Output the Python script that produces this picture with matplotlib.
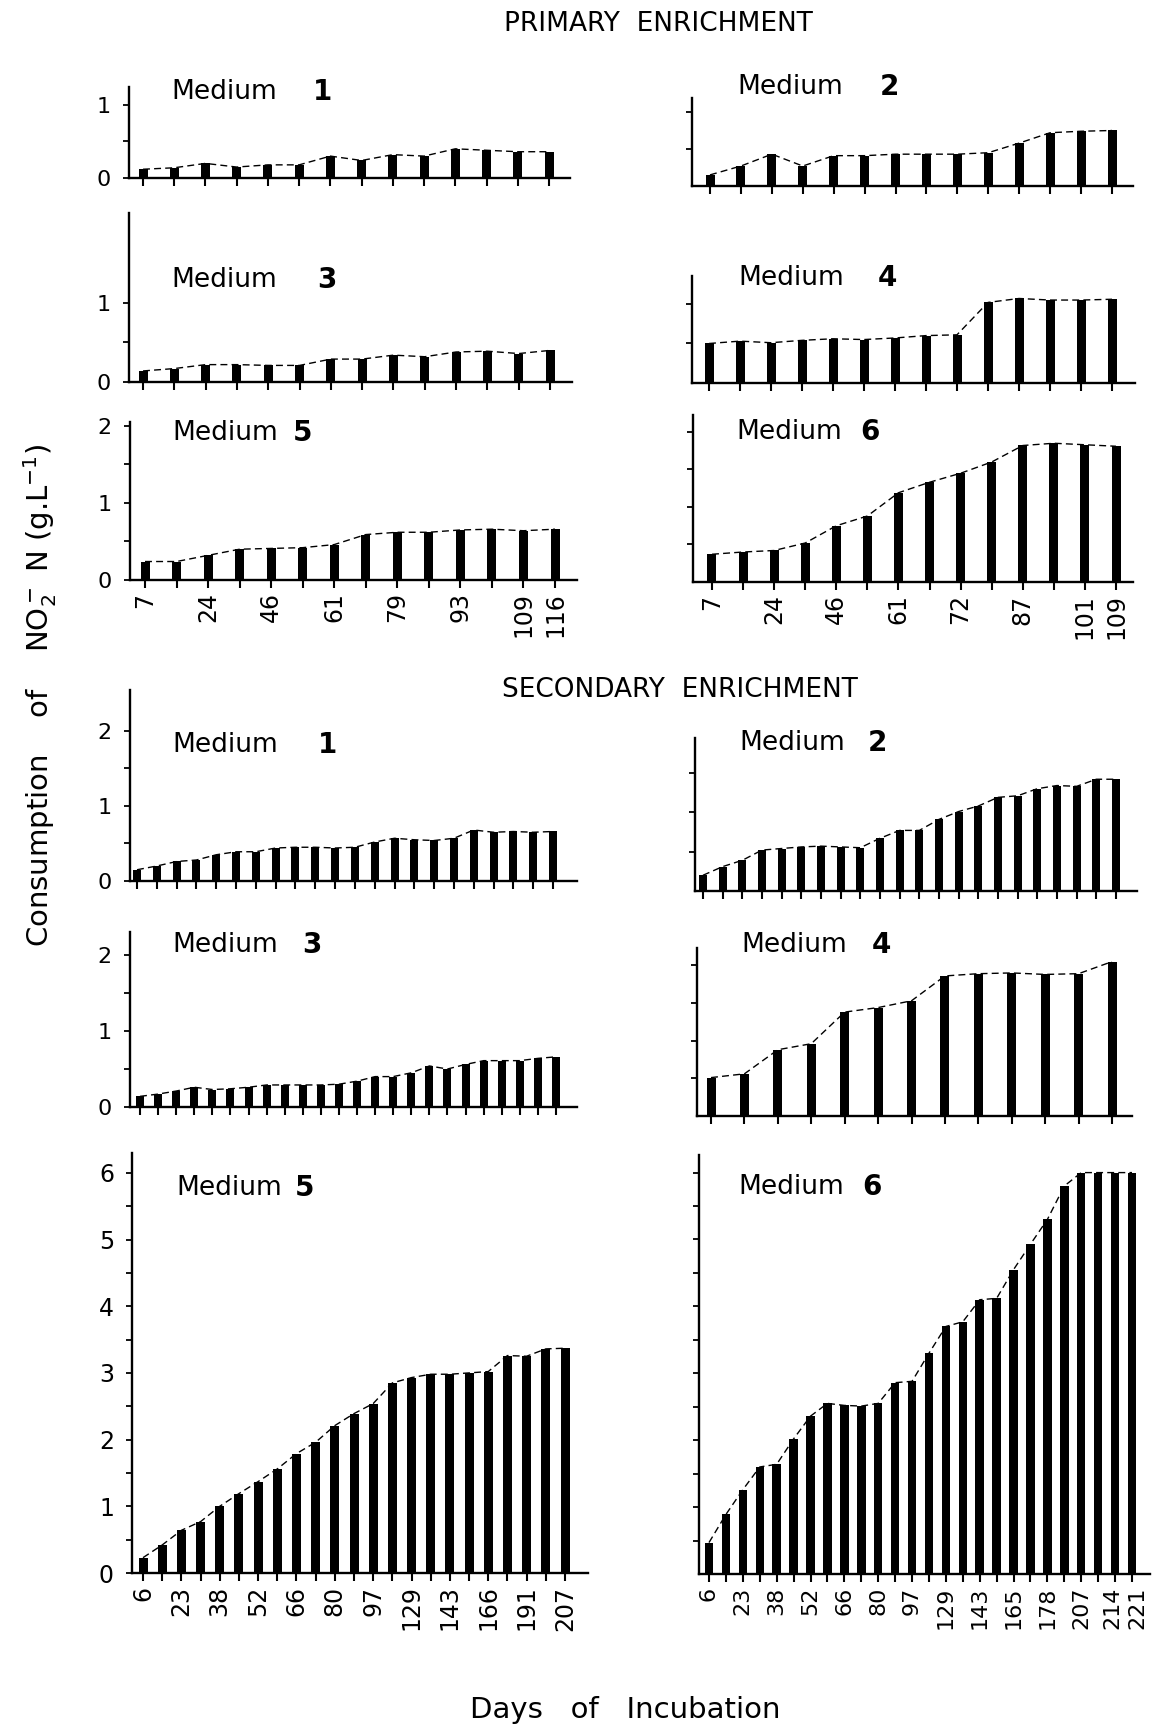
import numpy as np
import matplotlib
matplotlib.use("Agg")
import matplotlib.pyplot as plt
from matplotlib.transforms import ScaledTranslation

plt.rcParams['font.family'] = ['DejaVu Sans']

# NO2- N consumption (g/L) per sampling, primary enrichment
prim_m1 = [0.12, 0.14, 0.20, 0.15, 0.18, 0.18, 0.30, 0.24, 0.32, 0.30, 0.40, 0.38, 0.36, 0.36]
prim_m2 = [0.15, 0.27, 0.43, 0.27, 0.41, 0.41, 0.43, 0.43, 0.43, 0.45, 0.58, 0.72, 0.74, 0.75]
prim_m3 = [0.14, 0.17, 0.22, 0.22, 0.21, 0.21, 0.29, 0.29, 0.34, 0.32, 0.38, 0.39, 0.36, 0.40]
prim_m4 = [0.50, 0.53, 0.51, 0.54, 0.56, 0.55, 0.57, 0.60, 0.61, 1.02, 1.07, 1.05, 1.05, 1.06]
prim_m5 = [0.24, 0.24, 0.32, 0.40, 0.41, 0.42, 0.46, 0.59, 0.62, 0.62, 0.65, 0.66, 0.64, 0.66]
prim_m6 = [0.37, 0.40, 0.42, 0.52, 0.75, 0.88, 1.19, 1.33, 1.45, 1.60, 1.82, 1.85, 1.83, 1.81]

# secondary enrichment
sec_m1 = [0.15, 0.20, 0.26, 0.28, 0.35, 0.39, 0.39, 0.44, 0.45, 0.45, 0.44, 0.45, 0.52, 0.57,
          0.55, 0.54, 0.57, 0.68, 0.65, 0.66, 0.65, 0.66]
sec_m2 = [0.20, 0.31, 0.39, 0.52, 0.54, 0.56, 0.57, 0.56, 0.55, 0.67, 0.77, 0.77, 0.91, 1.01,
          1.08, 1.19, 1.21, 1.30, 1.34, 1.33, 1.42, 1.42]
sec_m3 = [0.14, 0.17, 0.21, 0.26, 0.23, 0.24, 0.26, 0.29, 0.29, 0.29, 0.29, 0.30, 0.34, 0.40,
          0.40, 0.45, 0.54, 0.50, 0.56, 0.61, 0.61, 0.61, 0.64, 0.66]
sec_m4 = [0.51, 0.56, 0.88, 0.96, 1.38, 1.44, 1.53, 1.86, 1.89, 1.90, 1.88, 1.89, 2.05]
sec_m5 = [0.23, 0.42, 0.64, 0.77, 1.00, 1.19, 1.37, 1.56, 1.79, 1.96, 2.21, 2.39, 2.54, 2.85,
          2.93, 2.98, 2.98, 3.00, 3.02, 3.26, 3.25, 3.36, 3.37]
sec_m6 = [0.47, 0.89, 1.26, 1.60, 1.64, 2.02, 2.36, 2.55, 2.52, 2.51, 2.55, 2.86, 2.88, 3.30,
          3.70, 3.77, 4.10, 4.12, 4.55, 4.93, 5.30, 5.80, 6.00, 6.00, 6.00, 6.00]

# day labels under the bottom panels (label, bar index)
prim_m5_days = ['7', '24', '46', '61', '79', '93', '109', '116']
prim_m5_idx = [0, 2, 4, 6, 8, 10, 12, 13]
prim_m6_days = ['7', '24', '46', '61', '72', '87', '101', '109']
prim_m6_idx = [0, 2, 4, 6, 8, 10, 12, 13]
sec_m5_days = ['6', '23', '38', '52', '66', '80', '97', '129', '143', '166', '191', '207']
sec_m5_idx = [0, 2, 4, 6, 8, 10, 12, 14, 16, 18, 20, 22]
sec_m6_days = ['6', '23', '38', '52', '66', '80', '97', '129', '143', '165', '178', '207', '214', '221']
sec_m6_idx = [0, 2, 4, 6, 8, 10, 12, 14, 16, 18, 20, 22, 24, 25]

W, H = 1161, 1726
fig = plt.figure(figsize=(W / 100, H / 100), dpi=100)

# panel geometry in pixels: axis x, axis end, zero line, axis top, px per unit,
# first/last bar centre, bar width
layout = {
    'p1': dict(left=129, right=570, zero=178, top=87, unit=73, x0=143, x1=549, bw=9),
    'p3': dict(left=129, right=572, zero=382, top=213, unit=79, x0=143, x1=550, bw=9),
    'p5': dict(left=130, right=577, zero=580, top=422, unit=77, x0=145, x1=555, bw=9),
    'p2': dict(left=692, right=1133, zero=186, top=98, unit=74, x0=710, x1=1112, bw=9),
    'p4': dict(left=692, right=1135, zero=383, top=276, unit=79, x0=709, x1=1112, bw=9),
    'p6': dict(left=693, right=1133, zero=582, top=415, unit=75, x0=712, x1=1116, bw=9),
    's1': dict(left=130, right=577, zero=881, top=690, unit=75, x0=137, x1=553, bw=8),
    's3': dict(left=130, right=577, zero=1107, top=932, unit=76, x0=140, x1=556, bw=8),
    's5': dict(left=132, right=588, zero=1573, top=1153, unit=66.7, x0=143, x1=565, bw=9),
    's2': dict(left=695, right=1137, zero=891, top=738, unit=78.7, x0=703, x1=1116, bw=8),
    's4': dict(left=697, right=1132, zero=1116, top=948, unit=75.3, x0=711, x1=1112, bw=9),
    's6': dict(left=699, right=1150, zero=1574, top=1155, unit=66.9, x0=709, x1=1132, bw=8.5),
}


def panel(key, vals, major, minor=(), labelled=False, days=None, day_idx=None,
          ysize=16, xsize=17):
    g = layout[key]
    ax = fig.add_axes([g['left'] / W, 1 - g['zero'] / H,
                       (g['right'] - g['left']) / W, (g['zero'] - g['top']) / H])
    n = len(vals)
    dx = (g['x1'] - g['x0']) / (n - 1)
    x = np.arange(n)
    ax.set_xlim((g['left'] - g['x0']) / dx, (g['right'] - g['x0']) / dx)
    ax.set_ylim(0, (g['zero'] - g['top']) / g['unit'])

    ax.bar(x, vals, width=g['bw'] / dx, color='black', zorder=3)
    ax.plot(x, vals, color='black', lw=1.0, dashes=(5, 3), zorder=2)

    for s in ['top', 'right']:
        ax.spines[s].set_visible(False)
    for s in ['left', 'bottom']:
        ax.spines[s].set_linewidth(1.7)

    ax.set_xticks(x)
    if days is not None:
        labels = [''] * n
        for d, i in zip(days, day_idx):
            labels[i] = d
        ax.set_xticklabels(labels, rotation=90, fontsize=xsize)
    else:
        ax.set_xticklabels([])
    ax.tick_params(axis='x', direction='out', length=6, width=1.5, pad=3)

    ax.set_yticks(list(major))
    ax.set_yticks(list(minor), minor=True)
    if labelled:
        ax.set_yticklabels([f'{v:g}' for v in major], fontsize=ysize)
    else:
        ax.set_yticklabels([])
    ax.tick_params(axis='y', which='both', direction='out', length=4, width=1.3, pad=9)
    ax.patch.set_visible(False)
    return ax


panel('p1', prim_m1, [0, 1], [0.5], labelled=True)
panel('p3', prim_m3, [0, 1], [0.5], labelled=True)
panel('p5', prim_m5, [0, 1, 2], [0.5, 1.5], labelled=True,
      days=prim_m5_days, day_idx=prim_m5_idx)
panel('p2', prim_m2, [0.5, 1])
panel('p4', prim_m4, [0.5, 1])
panel('p6', prim_m6, [0.5, 1, 1.5, 2], days=prim_m6_days, day_idx=prim_m6_idx)

panel('s1', sec_m1, [0, 1, 2], [0.5, 1.5], labelled=True)
panel('s3', sec_m3, [0, 1, 2], [0.5, 1.5], labelled=True)
panel('s5', sec_m5, [0, 1, 2, 3, 4, 5, 6], [0.5, 1.5, 2.5, 3.5, 4.5, 5.5], labelled=True,
      days=sec_m5_days, day_idx=sec_m5_idx, ysize=17)
panel('s2', sec_m2, [0.5, 1, 1.5])
panel('s4', sec_m4, [0.5, 1, 1.5, 2])
ax6 = panel('s6', sec_m6, list(np.arange(0.5, 6.01, 0.5)),
            days=sec_m6_days, day_idx=sec_m6_idx, xsize=16)

# the last two days sit on neighbouring bars: nudge them apart
last = ax6.get_xticklabels()
last[24].set_transform(last[24].get_transform() + ScaledTranslation(-2 / 72, 0, fig.dpi_scale_trans))
last[25].set_transform(last[25].get_transform() + ScaledTranslation(4 / 72, 0, fig.dpi_scale_trans))


def ftext(x, y, s, **kw):
    fig.text(x / W, 1 - y / H, s, **kw)


# panel names: (x of "Medium", y, number, x of number)
names = [
    (171, 92, '1', 313), (171, 280, '3', 317), (172, 433, '5', 293),
    (737, 87, '2', 880), (738, 278, '4', 878), (736, 432, '6', 860),
    (172, 745, '1', 318), (172, 945, '3', 302), (176, 1188, '5', 295),
    (739, 743, '2', 868), (741, 945, '4', 872), (738, 1187, '6', 862),
]
for mx, my, num, nx in names:
    ftext(mx, my, 'Medium', fontsize=19, va='center', ha='left')
    ftext(nx, my, num, fontsize=20, fontweight='bold', va='center', ha='left')

ftext(658, 24, 'PRIMARY  ENRICHMENT', fontsize=19, ha='center', va='center')
ftext(680, 690, 'SECONDARY  ENRICHMENT', fontsize=19, ha='center', va='center')
ftext(625, 1710, 'Days   of   Incubation', fontsize=21, ha='center', va='center')
ftext(40, 695, r'Consumption    of    NO$_2^-$ N (g.L$^{-1}$)', fontsize=21,
      rotation=90, ha='center', va='center')

fig.savefig('out.png', dpi=100, facecolor='white')
